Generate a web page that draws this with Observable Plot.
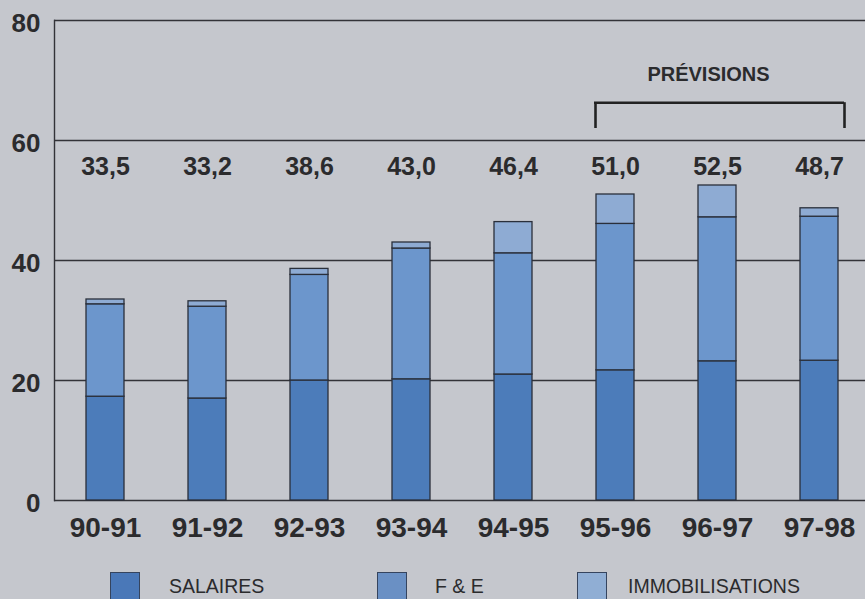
<!DOCTYPE html>
<html>
<head>
<meta charset="utf-8">
<script src="https://cdn.jsdelivr.net/npm/d3@7"></script>
<script src="https://cdn.jsdelivr.net/npm/@observablehq/plot@0.6"></script>
<style>
  html, body { margin: 0; padding: 0; background: #c5c7cd; }
  body { width: 865px; height: 599px; overflow: hidden; font-family: "Liberation Sans", Arial, sans-serif; color: #2b2b2d; }
  #chart svg { display: block; }
  #legend { position: relative; height: 54px; width: 865px; }
  .sw { position: absolute; width: 30px; height: 30px; top: 27px; box-sizing: border-box; border: 1px solid #35445e; }
  .lb { position: absolute; top: 29px; font-size: 19.5px; line-height: 24px; white-space: nowrap; }
</style>
</head>
<body>
<div id="chart"></div>
<div id="legend"></div>
<script>
// --- data ---
const years = ["90-91", "91-92", "92-93", "93-94", "94-95", "95-96", "96-97", "97-98"];
const salaires = [17.3, 17.0, 20.0, 20.2, 21.0, 21.7, 23.2, 23.3];
const fe = [15.4, 15.3, 17.6, 21.8, 20.2, 24.4, 24.0, 24.0];
const immobilisations = [0.8, 0.9, 1.0, 1.0, 5.2, 4.9, 5.3, 1.4];
const series = ["SALAIRES", "F & E", "IMMOBILISATIONS"];
const seriesColors = ["#4c7cba", "#6c96cc", "#8eabd3"];
const yTicks = [0, 20, 40, 60, 80];
const forecastYears = ["95-96", "97-98"];
const forecastLabel = "PRÉVISIONS";

// --- derived tables ---
const seriesValues = [salaires, fe, immobilisations];
const rows = [];
series.forEach((s, si) => years.forEach((y, i) => rows.push({year: y, serie: s, value: seriesValues[si][i]})));
const totals = years.map((y, i) => ({year: y, total: salaires[i] + fe[i] + immobilisations[i]}));
const fmt = v => v.toFixed(1).replace(".", ",");

const ink = "#2b2b2d";
const chart = Plot.plot({
  width: 865,
  height: 545,
  marginTop: 20,
  marginBottom: 45,
  marginLeft: 54,
  marginRight: 0,
  style: {background: "transparent", fontFamily: "'Liberation Sans', Arial, sans-serif", color: ink},
  x: {domain: years, range: [54, 870], paddingInner: 0.63, paddingOuter: 0.315, label: null},
  y: {domain: [0, 80], label: null},
  color: {domain: series, range: seriesColors},
  marks: [
    Plot.ruleY(yTicks, {stroke: "#333338", strokeWidth: 1.4}),
    Plot.frame({anchor: "left", stroke: "#333338", strokeWidth: 1.4}),
    Plot.barY(rows, {x: "year", y: "value", fill: "serie", order: series, stroke: "#2a2f3a", strokeWidth: 1.3}),
    Plot.text(totals, {x: "year", text: d => fmt(d.total), frameAnchor: "top", lineAnchor: "middle", dy: 146, fontSize: 25, fontWeight: "bold", fill: ink}),
    Plot.ruleY([{x1: forecastYears[0], x2: forecastYears[1], y: 66.3}], {x1: "x1", x2: "x2", y: "y", insetLeft: -2, insetRight: -6, stroke: "#222", strokeWidth: 2.6}),
    Plot.ruleX([forecastYears[0]], {x: d => d, y1: 62, y2: 66.3, dx: -20, stroke: "#222", strokeWidth: 2.6}),
    Plot.ruleX([forecastYears[1]], {x: d => d, y1: 62, y2: 66.3, dx: 25, stroke: "#222", strokeWidth: 2.6}),
    Plot.text([forecastLabel], {x: () => "96-97", text: d => d, frameAnchor: "top", lineAnchor: "middle", dy: 54.5, dx: -9, fontSize: 20, fontWeight: "bold", fill: ink}),
    Plot.axisY({ticks: yTicks, tickSize: 0, tickPadding: 14, fontSize: 26, fontWeight: "bold", dy: 3, color: ink, label: null}),
    Plot.axisX({tickSize: 0, tickPadding: 17, fontSize: 28, fontWeight: "bold", color: ink, label: null})
  ]
});
document.getElementById("chart").appendChild(chart);

// --- legend ---
const legend = document.getElementById("legend");
const swatchX = [110, 377, 577];
const labelX = [169, 435, 628];
const swatchColors = ["#4a78b8", "#6a90c4", "#90aed4"];
series.forEach((s, i) => {
  const sw = document.createElement("div");
  sw.className = "sw";
  sw.style.left = swatchX[i] + "px";
  sw.style.background = swatchColors[i];
  legend.appendChild(sw);
  const lb = document.createElement("div");
  lb.className = "lb";
  lb.style.left = labelX[i] + "px";
  lb.textContent = s;
  legend.appendChild(lb);
});
</script>
</body>
</html>
